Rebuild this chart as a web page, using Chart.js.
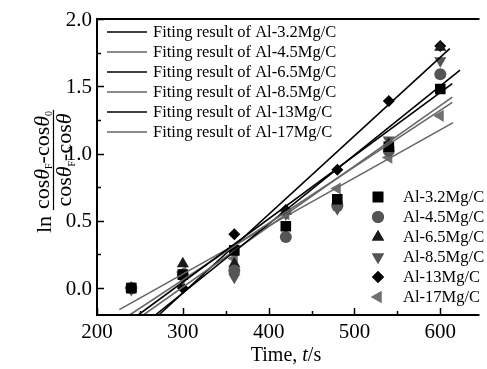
<!DOCTYPE html>
<html>
<head>
<meta charset="utf-8">
<script src="https://cdn.jsdelivr.net/npm/chart.js@4.4.0/dist/chart.umd.min.js"></script>
<style>
  html, body { margin: 0; padding: 0; background: #fff; }
  canvas { display: block; }
</style>
</head>
<body>
<canvas id="chart" width="487" height="369"></canvas>
<script>
// Measured points, time in s
const timeS = [240, 300, 360, 420, 480, 540, 600];
const al32 = [0.00, 0.10, 0.28, 0.46, 0.66, 1.05, 1.48];
const al45 = [0.00, 0.10, 0.13, 0.38, 0.61, 1.02, 1.59];
const al65 = [0.00, 0.18, 0.18, 0.57, 0.65, 1.07, 1.79];
const al85 = [-0.01, 0.07, 0.08, 0.55, 0.59, 1.10, 1.69];
const al13 = [0.00, 0.00, 0.40, 0.58, 0.88, 1.39, 1.80];
const al17 = [0.00, 0.12, 0.22, 0.55, 0.74, 0.97, 1.28];
const seriesNames = ['Al-3.2Mg/C', 'Al-4.5Mg/C', 'Al-6.5Mg/C', 'Al-8.5Mg/C', 'Al-13Mg/C', 'Al-17Mg/C'];

// Fitted lines (start / end)
const fitX32 = [248, 614], fitY32 = [-0.20, 1.52];
const fitX45 = [238, 614], fitY45 = [-0.20, 1.38];
const fitX65 = [268, 623], fitY65 = [-0.20, 1.62];
const fitX85 = [254, 614], fitY85 = [-0.20, 1.42];
const fitX13 = [272, 611], fitY13 = [-0.20, 1.78];
const fitX17 = [226, 615], fitY17 = [-0.16, 1.23];

// Axis ticks
const xMajorTicks = [200, 300, 400, 500, 600];
const xMinorTicks = [250, 350, 450, 550];
const yMajorTicks = [0, 0.5, 1.0, 1.5, 2.0];
const yMinorTicks = [0.25, 0.75, 1.25, 1.75];

const serif = '"Liberation Serif", "Times New Roman", serif';
const BLACK = '#000000';
const GRAY = '#666666';

// marker look for each series
const markers = [
    { style: 'rect', rot: 0, r: 7.5, color: '#000000' },
    { style: 'circle', rot: 0, r: 6, color: '#555555' },
    { style: 'triangle', rot: 0, r: 7, color: '#1a1a1a' },
    { style: 'triangle', rot: 180, r: 7, color: '#555555' },
    { style: 'rectRot', rot: 0, r: 6, color: '#000000' },
    { style: 'triangle', rot: 270, r: 7, color: '#707070' }
];
const fitColors = [BLACK, GRAY, BLACK, GRAY, BLACK, GRAY];

const pointSets = [al32, al45, al65, al85, al13, al17];
const fitXs = [fitX32, fitX45, fitX65, fitX85, fitX13, fitX17];
const fitYs = [fitY32, fitY45, fitY65, fitY85, fitY13, fitY17];

const toXY = (xs, ys) => xs.map((x, i) => ({ x: x, y: ys[i] }));

const datasets = [];
pointSets.forEach((vals, i) => {
    const m = markers[i];
    datasets.push({
        label: seriesNames[i],
        data: toXY(timeS, vals),
        showLine: false,
        pointStyle: m.style,
        rotation: m.rot,
        pointRadius: m.r,
        backgroundColor: m.color,
        borderColor: m.color,
        borderWidth: 0,
        order: 2
    });
});
fitXs.forEach((xs, i) => {
    datasets.push({
        label: 'Fiting result of ' + seriesNames[i],
        data: toXY(xs, fitYs[i]),
        showLine: true,
        pointRadius: 0,
        borderColor: fitColors[i],
        borderWidth: 1.6,
        fill: false,
        order: 1
    });
});

// draw a run of text pieces, returns width
function drawRuns(ctx, x, y, runs, measureOnly) {
    let cx = x;
    runs.forEach(r => {
        ctx.font = (r.italic ? 'italic ' : '') + r.size + 'px ' + serif;
        if (!measureOnly) ctx.fillText(r.t, cx, y + (r.dy || 0));
        cx += ctx.measureText(r.t).width;
    });
    return cx - x;
}

const framePlugin = {
    id: 'framePlugin',
    afterDraw(chart) {
        const ctx = chart.ctx;
        const { left, right, top, bottom } = chart.chartArea;
        const xs = chart.scales.x, ys = chart.scales.y;
        ctx.save();
        ctx.strokeStyle = '#000';
        ctx.fillStyle = '#000';

        // frame: left, bottom, top
        ctx.lineWidth = 2;
        ctx.beginPath();
        ctx.moveTo(left, top);
        ctx.lineTo(right, top);
        ctx.moveTo(left, top - 1);
        ctx.lineTo(left, bottom + 1);
        ctx.moveTo(left - 1, bottom);
        ctx.lineTo(right, bottom);
        ctx.stroke();

        // inward ticks
        ctx.lineWidth = 1.5;
        ctx.beginPath();
        xMajorTicks.forEach(v => {
            const px = Math.round(xs.getPixelForValue(v)) + 0.5;
            ctx.moveTo(px, bottom); ctx.lineTo(px, bottom - 7);
        });
        xMinorTicks.forEach(v => {
            const px = Math.round(xs.getPixelForValue(v)) + 0.5;
            ctx.moveTo(px, bottom); ctx.lineTo(px, bottom - 4);
        });
        yMajorTicks.forEach(v => {
            const py = Math.round(ys.getPixelForValue(v)) + 0.5;
            ctx.moveTo(left, py); ctx.lineTo(left + 7, py);
        });
        yMinorTicks.forEach(v => {
            const py = Math.round(ys.getPixelForValue(v)) + 0.5;
            ctx.moveTo(left, py); ctx.lineTo(left + 4, py);
        });
        ctx.stroke();

        // tick labels
        ctx.font = '21px ' + serif;
        ctx.textAlign = 'center';
        ctx.textBaseline = 'alphabetic';
        xMajorTicks.forEach(v => {
            ctx.fillText(String(v), xs.getPixelForValue(v), 338);
        });
        ctx.textAlign = 'right';
        ctx.textBaseline = 'middle';
        yMajorTicks.forEach(v => {
            ctx.fillText(v.toFixed(1), 92, ys.getPixelForValue(v) + 1);
        });

        // x title
        ctx.textAlign = 'left';
        ctx.textBaseline = 'alphabetic';
        const xt = [{ t: 'Time, ', size: 20 }, { t: 't', size: 20, italic: true }, { t: '/s', size: 20 }];
        const xw = drawRuns(ctx, 0, 0, xt, true);
        drawRuns(ctx, 286 - xw / 2, 361, xt);

        // y title, rotated
        ctx.save();
        ctx.translate(50, 170);
        ctx.rotate(-Math.PI / 2);
        const num = [
            { t: 'cos', size: 22 }, { t: 'θ', size: 22, italic: true }, { t: 'F', size: 10, dy: 3 },
            { t: '-cos', size: 22 }, { t: 'θ', size: 22, italic: true }, { t: '0', size: 10, dy: 3 }
        ];
        const den = [
            { t: 'cos', size: 22 }, { t: 'θ', size: 22, italic: true }, { t: 'F', size: 10, dy: 4 },
            { t: '-cos', size: 22 }, { t: 'θ', size: 22, italic: true }
        ];
        const nw = drawRuns(ctx, 0, 0, num, true);
        const dw = drawRuns(ctx, 0, 0, den, true);
        const fw = Math.max(nw, dw) + 2;
        const fc = 10;
        drawRuns(ctx, fc - nw / 2, -1, num);
        drawRuns(ctx, fc - dw / 2, 21, den);
        ctx.lineWidth = 1.2;
        ctx.beginPath();
        ctx.moveTo(fc - fw / 2, 3.5);
        ctx.lineTo(fc + fw / 2, 3.5);
        ctx.stroke();
        drawRuns(ctx, fc - fw / 2 - 23, 1, [{ t: 'ln', size: 22 }]);
        ctx.restore();

        // top-left legend: fit lines
        ctx.font = '16.5px ' + serif;
        ctx.textBaseline = 'middle';
        ctx.textAlign = 'left';
        fitColors.forEach((c, i) => {
            const y = 32 + i * 20;
            ctx.strokeStyle = c;
            ctx.lineWidth = 1.6;
            ctx.beginPath();
            ctx.moveTo(107, y);
            ctx.lineTo(147, y);
            ctx.stroke();
            ctx.fillStyle = '#000';
            ctx.fillText('Fiting result of ' + seriesNames[i], 153, y + 1);
        });

        // bottom-right legend: markers
        ctx.font = '16.5px ' + serif;
        markers.forEach((m, i) => {
            const y = 197 + i * 20;
            ctx.fillStyle = m.color;
            ctx.strokeStyle = m.color;
            ctx.lineWidth = 0;
            Chart.helpers.drawPoint(ctx, { pointStyle: m.style, rotation: m.rot, radius: m.r, borderWidth: 0 }, 378, y);
            ctx.fill();
            ctx.fillStyle = '#000';
            ctx.fillText(seriesNames[i], 403, y + 1);
        });

        ctx.restore();
    }
};

new Chart(document.getElementById('chart'), {
    type: 'scatter',
    data: { datasets: datasets },
    options: {
        responsive: false,
        animation: false,
        layout: { padding: { left: 97, right: 0, top: 19, bottom: 54 } },
        plugins: { legend: { display: false }, tooltip: { enabled: false } },
        scales: {
            x: { type: 'linear', min: 200, max: 645.7, display: false },
            y: { type: 'linear', min: -0.2, max: 2.0, display: false }
        }
    },
    plugins: [framePlugin]
});
</script>
</body>
</html>
